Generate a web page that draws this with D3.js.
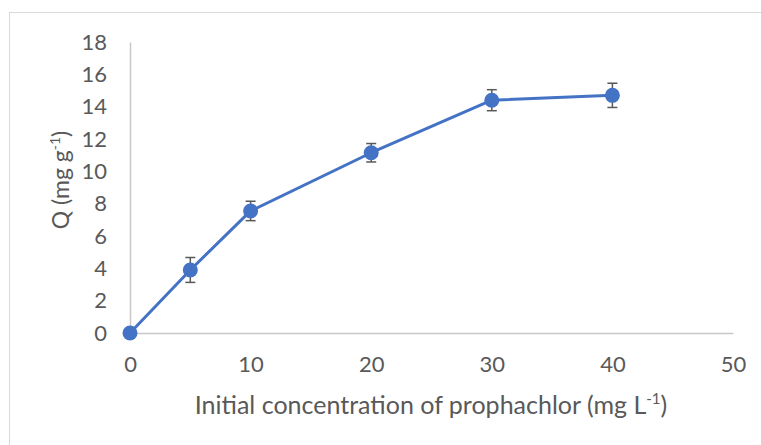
<!DOCTYPE html>
<html>
<head>
<meta charset="utf-8">
<script src="https://cdn.jsdelivr.net/npm/d3@7"></script>
<style>
  html, body { margin: 0; padding: 0; background: #fff; }
  svg { display: block; }
  text { font-family: Lato, "Open Sans", sans-serif; fill: #595959; }
</style>
</head>
<body>
<svg id="chart" width="761" height="445"></svg>
<script>
// Adsorption capacity vs. initial prophachlor concentration
const concentration = [0, 5, 10, 20, 30, 40];
const capacity = [0, 3.9, 7.55, 11.15, 14.4, 14.7];
const errorBar = [0, 0.77, 0.6, 0.57, 0.65, 0.75];
const xTicks = [0, 10, 20, 30, 40, 50];
const yTicks = [0, 2, 4, 6, 8, 10, 12, 14, 16, 18];

const svg = d3.select("#chart");

// chart frame
svg.append("rect")
  .attr("x", 9.5).attr("y", 12.5)
  .attr("width", 770).attr("height", 460)
  .attr("fill", "#fff").attr("stroke", "#d9d9d9").attr("stroke-width", 1);

const x = d3.scaleLinear().domain([0, 50]).range([130, 733]);
const y = d3.scaleLinear().domain([0, 18]).range([333, 42]);

// axes
const xAxis = svg.append("g").attr("transform", `translate(0,${y(0)})`)
  .call(d3.axisBottom(x).tickValues(xTicks).tickSize(0).tickPadding(23));
const yAxis = svg.append("g").attr("transform", `translate(${x(0)},0)`)
  .call(d3.axisLeft(y).tickValues(yTicks).tickSize(0).tickPadding(23));
[xAxis, yAxis].forEach(g => {
  g.attr("font-family", null).attr("font-size", null);
  g.select(".domain").attr("stroke", "#c8c8c8").attr("stroke-width", 1.5);
  g.selectAll("text").style("font-size", "22px").style("fill", "#595959")
    .style("font-family", 'Lato, "Open Sans", sans-serif');
});

// axis titles
const xt = svg.append("text")
  .attr("x", 431).attr("y", 414)
  .attr("text-anchor", "middle").style("font-size", "25px");
xt.append("tspan").text("Initial concentration of prophachlor (mg L");
xt.append("tspan").style("font-size", "15px").attr("dy", -10).text("-1");
xt.append("tspan").attr("dy", 10).text(")");

const yt = svg.append("text")
  .attr("transform", "translate(69,180) rotate(-90)")
  .attr("text-anchor", "middle").style("font-size", "23px");
yt.append("tspan").text("Q (mg g");
yt.append("tspan").style("font-size", "14px").attr("dy", -9).text("-1");
yt.append("tspan").attr("dy", 9).text(")");

const pts = concentration.map((c, i) => ({ c, q: capacity[i], e: errorBar[i] }));

// series line
svg.append("path").datum(pts)
  .attr("fill", "none").attr("stroke", "#4472c4").attr("stroke-width", 3)
  .attr("stroke-linejoin", "round")
  .attr("d", d3.line().x(d => x(d.c)).y(d => y(d.q)));

// error bars
const eb = svg.append("g").attr("stroke", "#595959").attr("stroke-width", 1.5);
pts.filter(d => d.e > 0).forEach(d => {
  const cx = x(d.c);
  eb.append("line").attr("x1", cx).attr("x2", cx).attr("y1", y(d.q + d.e)).attr("y2", y(d.q - d.e));
  eb.append("line").attr("x1", cx - 5).attr("x2", cx + 5).attr("y1", y(d.q + d.e)).attr("y2", y(d.q + d.e));
  eb.append("line").attr("x1", cx - 5).attr("x2", cx + 5).attr("y1", y(d.q - d.e)).attr("y2", y(d.q - d.e));
});

// markers
svg.append("g").selectAll("circle").data(pts).join("circle")
  .attr("cx", d => x(d.c)).attr("cy", d => y(d.q)).attr("r", 7.5)
  .attr("fill", "#4472c4");
</script>
</body>
</html>
